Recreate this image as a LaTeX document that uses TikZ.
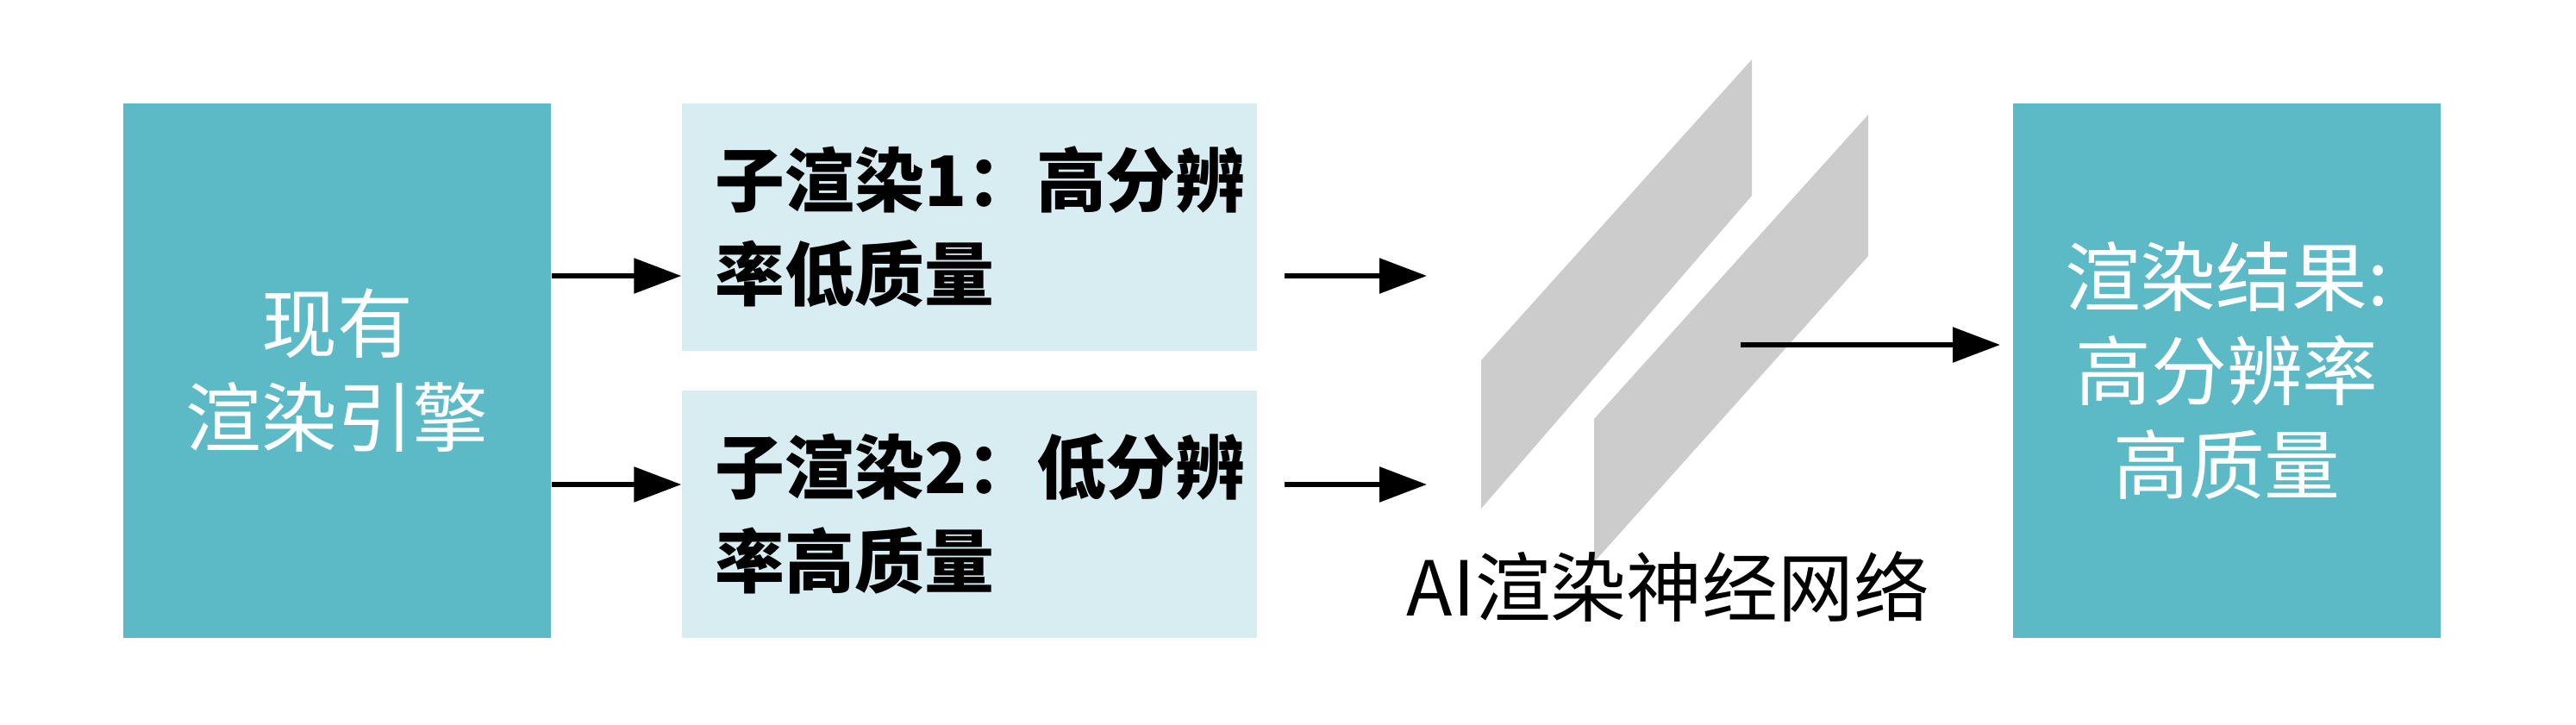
\documentclass[tikz,border=0pt]{standalone}
\usepackage{fontspec}
\setmainfont{Noto Sans CJK SC}
\usetikzlibrary{arrows.meta}
\definecolor{teal}{HTML}{5BBAC6}
\definecolor{lite}{HTML}{D8EDF2}
\definecolor{plate}{HTML}{CCCCCC}
\tikzset{
  big/.style={fill=teal,text=white,minimum width=4.96cm,minimum height=6.2cm,align=center,font=\fontsize{25}{31}\selectfont,inner sep=0},
  sub/.style={fill=lite,minimum width=6.67cm,minimum height=2.87cm,text width=5.9cm,align=left,font=\bfseries\fontsize{23}{31}\selectfont,inner sep=0},
  arr/.style={line width=1.6pt,-{Triangle[length=0.55cm,width=0.4cm]}}
}
\begin{document}
\begin{tikzpicture}[yscale=-1]
\useasboundingbox (0,0) rectangle (29.88,8.4);
\node[big] (eng) at (3.91,4.30) {现有\\渲染引擎};
\node[sub] (s1) at (11.245,2.63) {子渲染1：高分辨\\率低质量};
\node[sub] (s2) at (11.245,5.96) {子渲染2：低分辨\\率高质量};
\node[big] (res) at (25.83,4.30) {渲染结果:\\高分辨率\\高质量};
\fill[plate] (17.18,4.18) -- (20.32,0.69) -- (20.32,2.27) -- (17.18,5.90) -- cycle;
\fill[plate] (18.49,4.86) -- (21.67,1.33) -- (21.67,2.97) -- (18.49,6.52) -- cycle;
\node (nn) at (19.35,6.80) {\fontsize{25}{31}\selectfont AI渲染神经网络};
\coordinate (a1) at (14.90,3.20); \coordinate (b1) at (16.55,3.20);
\coordinate (a2) at (14.90,5.62); \coordinate (b2) at (16.55,5.62);
\coordinate (c) at (20.19,4.00); \coordinate (d) at (23.20,4.00);
\draw[arr] (eng.east |- 0,3.20) -- (s1.west |- 0,3.20);
\draw[arr] (eng.east |- 0,5.62) -- (s2.west |- 0,5.62);
\draw[arr] (a1) -- (b1);
\draw[arr] (a2) -- (b2);
\draw[arr] (c) -- (d);
\end{tikzpicture}
\end{document}
